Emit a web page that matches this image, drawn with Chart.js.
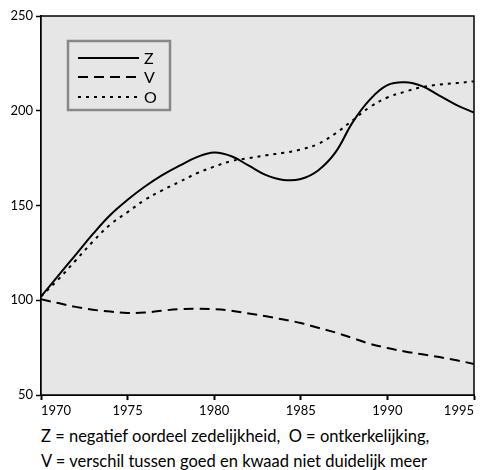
<!DOCTYPE html>
<html>
<head>
<meta charset="utf-8">
<script src="https://cdn.jsdelivr.net/npm/chart.js@4"></script>
<style>
  body { margin: 0; background: #fff; }
  #wrap { width: 484px; height: 420px; }
  .caption { font-family: Lato, sans-serif; font-size: 16.5px; color: #000; margin-left: 41px; line-height: 25px; white-space: pre; }
</style>
</head>
<body>
<div id="wrap"><canvas id="line-chart" width="484" height="420"></canvas></div>
<div class="caption" style="margin-top:4px">Z = negatief oordeel zedelijkheid,  O = ontkerkelijking,</div>
<div class="caption">V = verschil tussen goed en kwaad niet duidelijk meer</div>
<script>
var years = [1970, 1971, 1972, 1973, 1974, 1975, 1976, 1977, 1978, 1979, 1980, 1981, 1982,
	1983, 1984, 1985, 1986, 1987, 1988, 1989, 1990, 1991, 1992, 1993, 1994, 1995];
var zValues = [102, 113, 124, 135, 145, 153, 160, 166, 171, 175.5, 178, 176, 171,
	166, 163.5, 164, 168.5, 178, 194, 206, 213.5, 215, 213, 208, 203, 199];
var vValues = [100.5, 98.5, 96.5, 95, 94, 93.3, 93.5, 94.5, 95.3, 95.5, 95.3, 94.5, 93,
	91.5, 89.8, 88, 85.5, 83, 80, 77, 74.8, 73, 71.5, 70, 68.3, 66.4];
var oValues = [102, 111, 121, 131, 140, 146.5, 153, 158, 162.5, 167, 170.5, 173.5, 175,
	176.5, 177.8, 179.5, 182.5, 188, 195, 202, 207, 210, 212.5, 213.8, 214.6, 215.5];
var yTicks = [50, 100, 150, 200, 250];
var xTicks = [1970, 1975, 1980, 1985, 1990, 1995];
var legendNames = ["Z", "V", "O"];

function toPoints(arr) {
	return arr.map(function (v, i) { return { x: years[i], y: v }; });
}

var dashes = [[], [10, 6], [3, 5]];

var plotFrame = {
	id: "plotFrame",
	beforeDatasetsDraw: function (chart) {
		var a = chart.chartArea, ctx = chart.ctx;
		ctx.save();
		ctx.fillStyle = "#e6e6e6";
		ctx.fillRect(a.left, a.top, a.right - a.left, a.bottom - a.top);
		ctx.strokeStyle = "#000";
		ctx.lineWidth = 1.5;
		ctx.strokeRect(a.left, a.top, a.right - a.left, a.bottom - a.top);
		ctx.restore();
	},
	afterDatasetsDraw: function (chart) {
		var ctx = chart.ctx;
		ctx.save();
		ctx.fillStyle = "#e6e6e6";
		ctx.fillRect(68, 41, 102, 69);
		ctx.strokeStyle = "#888";
		ctx.lineWidth = 2.5;
		ctx.strokeRect(68, 41, 102, 69);
		var rows = [58, 77, 97];
		ctx.font = "16px Lato, sans-serif";
		ctx.textBaseline = "middle";
		for (var i = 0; i < 3; i++) {
			ctx.strokeStyle = "#000";
			ctx.lineWidth = 2;
			ctx.setLineDash(dashes[i]);
			ctx.beginPath();
			ctx.moveTo(78, rows[i]);
			ctx.lineTo(139, rows[i]);
			ctx.stroke();
			ctx.setLineDash([]);
			ctx.fillStyle = "#000";
			ctx.fillText(legendNames[i], 144, rows[i] + 1);
		}
		ctx.restore();
	}
};

function makeSet(label, arr, dash) {
	return {
		label: label,
		data: toPoints(arr),
		borderColor: "#000",
		borderWidth: 2,
		borderDash: dash,
		pointRadius: 0,
		fill: false,
		tension: 0.4
	};
}

var chart = new Chart(document.querySelector("#line-chart"), {
	type: "line",
	data: {
		datasets: [
			makeSet("Z", zValues, dashes[0]),
			makeSet("V", vValues, dashes[1]),
			makeSet("O", oValues, dashes[2])
		]
	},
	options: {
		responsive: false,
		animation: false,
		layout: { padding: { top: 16, right: 10, left: 0, bottom: 0 } },
		plugins: { legend: { display: false }, tooltip: { enabled: false } },
		scales: {
			x: {
				type: "linear",
				min: xTicks[0],
				max: xTicks[xTicks.length - 1],
				ticks: {
					stepSize: xTicks[1] - xTicks[0],
					color: "#000",
					font: { family: "Lato, sans-serif", size: 13 },
					padding: 3,
					align: "inner",
					callback: function (v) { return String(v); }
				},
				grid: { drawOnChartArea: false, tickLength: 5, tickColor: "#000", tickWidth: 2 },
				border: { color: "#000", width: 2 },
				afterFit: function (s) { s.height = 25; s.paddingLeft = 0; s.paddingRight = 0; }
			},
			y: {
				min: yTicks[0],
				max: yTicks[yTicks.length - 1],
				ticks: {
					stepSize: yTicks[1] - yTicks[0],
					color: "#000",
					font: { family: "Lato, sans-serif", size: 13 },
					padding: 3
				},
				grid: { drawOnChartArea: false, tickLength: 5, tickColor: "#000", tickWidth: 1.5 },
				border: { color: "#000", width: 2 },
				afterFit: function (s) { s.width = 41; }
			}
		}
	},
	plugins: [plotFrame]
});
</script>
</body>
</html>
